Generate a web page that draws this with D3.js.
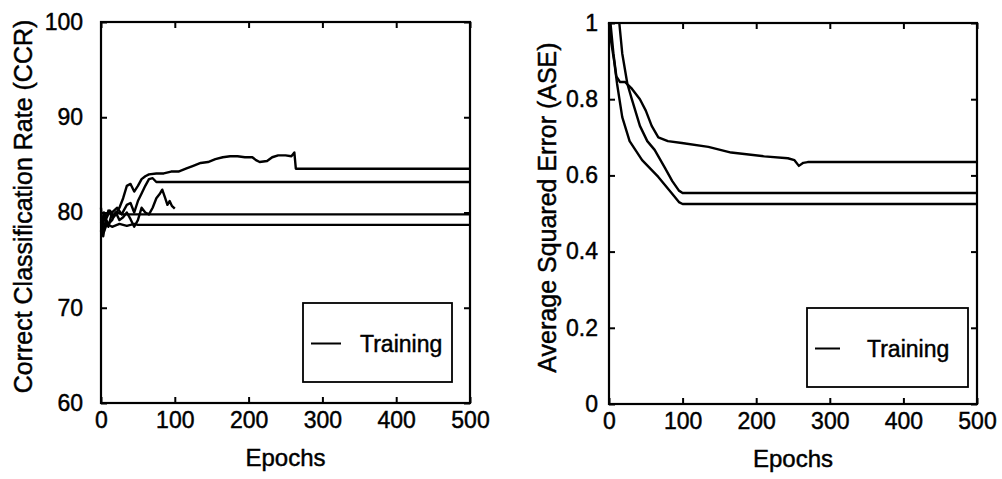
<!DOCTYPE html>
<html>
<head>
<meta charset="utf-8">
<script src="https://cdn.jsdelivr.net/npm/d3@7"></script>
<style>
  body { margin: 0; background: #fff; }
  svg { display: block; }
  text { font-family: "Liberation Sans", Arial, Helvetica, sans-serif; fill: #000; stroke: #000; stroke-width: 0.45px; }
</style>
</head>
<body>
<svg id="chart" width="1002" height="479"></svg>
<script>
const epochTicks = [0, 100, 200, 300, 400, 500];
const ccrTicks = [60, 70, 80, 90, 100];
const aseTicks = [0, 0.2, 0.4, 0.6, 0.8, 1];

// CCR runs, [epoch, value]
const ccrRun1 = [[0,78],[4,80],[8,79.5],[12,80.2],[18,79.6],[25,80.5],[30,81.5],[35,82.8],[40,83],[45,82.2],[50,82.8],
  [55,83.5],[60,83.8],[65,84],[75,84.1],[85,84.1],[95,84.3],[105,84.3],[115,84.6],[125,84.9],[135,85.2],[145,85.3],
  [155,85.6],[165,85.8],[175,85.9],[185,85.9],[195,85.8],[205,85.8],[210,85.5],[215,85.3],[225,85.4],[232,85.8],
  [240,86],[250,86],[258,85.9],[262,86.3],[264,84.6],[500,84.6]];
const ccrRun2 = [[0,79],[5,79.5],[10,78.5],[15,80],[22,80.5],[28,79.8],[35,80.8],[40,81],[45,80],[50,81.2],
  [55,82],[60,82.8],[65,83.5],[70,83.6],[75,83.2],[80,83.2],[500,83.2]];
const ccrRun3 = [[0,78],[5,79.5],[10,78.8],[15,79.2],[20,80],[25,79.2],[30,79.5],[35,80],[40,79.3],[45,78.5],
  [50,79.2],[55,80.5],[60,80],[65,79.8],[70,80.5],[75,81.5],[80,82],[83,82.4],[87,81.5],[90,80.8],[93,81.2],
  [96,80.7],[100,80.4]];
const ccrRun4 = [[0,80.5],[3,77.5],[6,79],[10,80.2],[15,79.5],[20,80],[30,79.8],[500,79.8]];
const ccrRun5 = [[0,79],[4,78],[8,78.8],[15,78.5],[25,78.8],[35,78.6],[45,78.8],[50,78.7],[500,78.7]];

// ASE runs
const aseRun1 = [[2,1],[6,0.92],[10,0.86],[15,0.845],[22,0.845],[30,0.83],[42,0.8],[50,0.77],[58,0.73],[67,0.7],
  [80,0.69],[99,0.685],[135,0.675],[166,0.66],[211,0.65],[243,0.645],[252,0.64],[258,0.625],[264,0.633],
  [270,0.635],[500,0.635]];
const aseRun2 = [[14,1],[18,0.92],[25,0.84],[31,0.8],[42,0.73],[52,0.69],[62,0.667],[76,0.62],[86,0.585],
  [95,0.56],[100,0.554],[500,0.554]];
const aseRun3 = [[0,1],[3,0.95],[7,0.9],[11,0.84],[18,0.753],[28,0.69],[45,0.64],[67,0.596],[85,0.554],
  [95,0.53],[100,0.525],[500,0.525]];

const svg = d3.select('#chart');

function drawPanel(p) {
  const x = d3.scaleLinear().domain([0, 500]).range([p.left, p.right]);
  const y = d3.scaleLinear().domain(p.yDomain).range([p.bottom, p.top]);
  const g = svg.append('g');

  const line = d3.line().x(d => x(d[0])).y(d => y(d[1]));
  g.selectAll('path.run')
    .data(p.runs)
    .join('path')
    .attr('class', 'run')
    .attr('d', line)
    .attr('fill', 'none')
    .attr('stroke', '#000')
    .attr('stroke-width', 2.4)
    .attr('stroke-linejoin', 'round');

  // inward ticks on all four sides
  const bottom = g.append('g').attr('transform', `translate(0,${p.bottom})`)
    .call(d3.axisBottom(x).tickValues(epochTicks).tickSizeInner(-6).tickSizeOuter(0).tickPadding(9));
  const top = g.append('g').attr('transform', `translate(0,${p.top})`)
    .call(d3.axisTop(x).tickValues(epochTicks).tickSizeInner(-6).tickSizeOuter(0).tickFormat(''));
  const left = g.append('g').attr('transform', `translate(${p.left},0)`)
    .call(d3.axisLeft(y).tickValues(p.yTicks).tickSizeInner(-6).tickSizeOuter(0).tickPadding(p.yPad).tickFormat(d3.format('~g')));
  const right = g.append('g').attr('transform', `translate(${p.right},0)`)
    .call(d3.axisRight(y).tickValues(p.yTicks).tickSizeInner(-6).tickSizeOuter(0).tickFormat(''));

  [bottom, top, left, right].forEach(a => {
    a.select('.domain').remove();
    a.selectAll('line').attr('stroke', '#000').attr('stroke-width', 2);
    a.selectAll('text').attr('font-size', 23).attr('font-family', null).attr('fill', '#000');
  });

  g.append('rect')
    .attr('x', p.left).attr('y', p.top)
    .attr('width', p.right - p.left).attr('height', p.bottom - p.top)
    .attr('fill', 'none').attr('stroke', '#000').attr('stroke-width', 2.2);

  g.append('text')
    .attr('x', (p.left + p.right) / 2).attr('y', p.bottom + 63)
    .attr('text-anchor', 'middle').attr('font-size', 24)
    .text('Epochs');

  g.append('text')
    .attr('transform', `translate(${p.yLabelX},${(p.top + p.bottom) / 2 - 6}) rotate(-90)`)
    .attr('text-anchor', 'middle').attr('font-size', 25)
    .text(p.yLabel);

  // legend
  const L = p.legend;
  g.append('rect')
    .attr('x', L.x).attr('y', L.y).attr('width', L.w).attr('height', L.h)
    .attr('fill', '#fff').attr('stroke', '#000').attr('stroke-width', 1.8);
  g.append('line')
    .attr('x1', L.x + 8).attr('x2', L.x + 8 + L.lineLen)
    .attr('y1', L.y + L.h / 2 + 1).attr('y2', L.y + L.h / 2 + 1)
    .attr('stroke', '#000').attr('stroke-width', 2);
  g.append('text')
    .attr('x', L.x + L.textX).attr('y', L.y + L.h / 2 + 9)
    .attr('font-size', 23)
    .text('Training');
}

drawPanel({
  left: 101, right: 470, top: 22, bottom: 403,
  yDomain: [60, 100], yTicks: ccrTicks, yPad: 18,
  yLabel: 'Correct Classification Rate (CCR)', yLabelX: 32,
  runs: [ccrRun1, ccrRun2, ccrRun3, ccrRun4, ccrRun5],
  legend: { x: 303, y: 303, w: 149, h: 79, lineLen: 30, textX: 57 }
});

drawPanel({
  left: 609, right: 977, top: 23, bottom: 404,
  yDomain: [0, 1], yTicks: aseTicks, yPad: 11,
  yLabel: 'Average Squared Error (ASE)', yLabelX: 556,
  runs: [aseRun1, aseRun2, aseRun3],
  legend: { x: 807, y: 308, w: 161, h: 79, lineLen: 25, textX: 60 }
});
</script>
</body>
</html>
